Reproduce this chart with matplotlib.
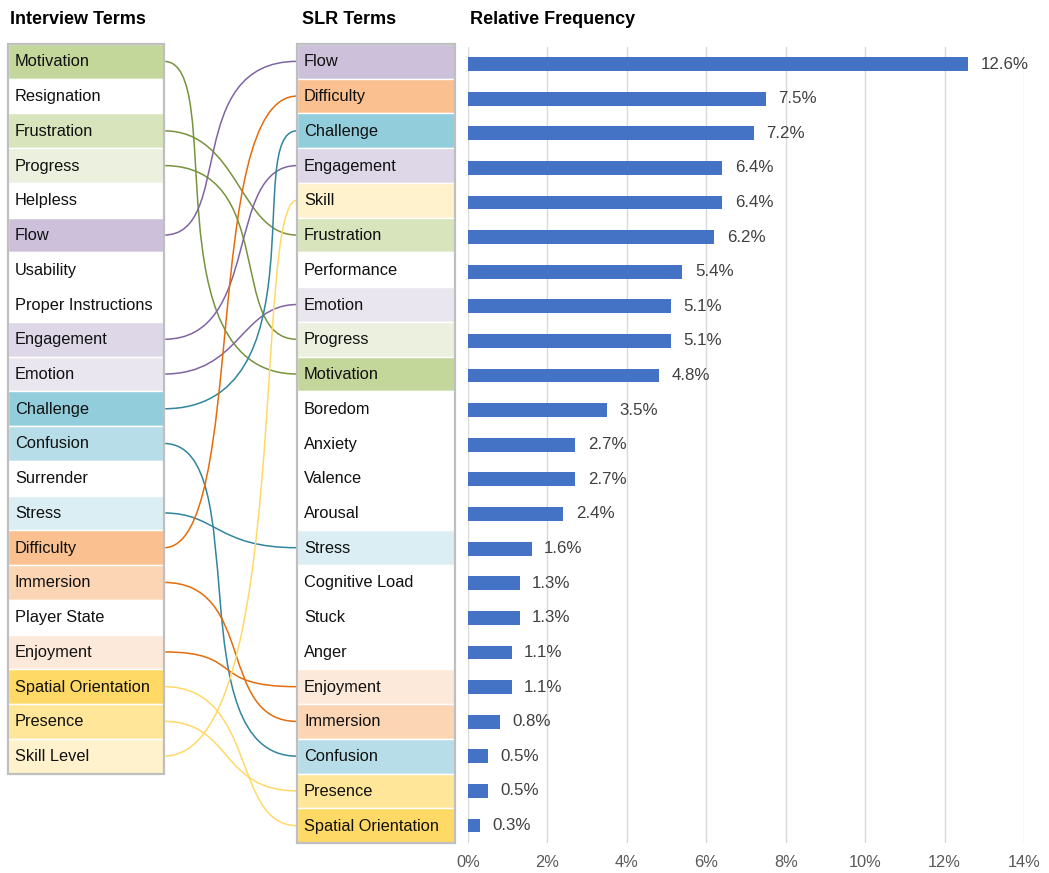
import matplotlib
matplotlib.use("Agg")
import matplotlib.pyplot as plt
import numpy as np
from matplotlib.patches import Rectangle, PathPatch
from matplotlib.path import Path
from matplotlib.ticker import FuncFormatter, MultipleLocator

plt.rcParams['font.family'] = ['Liberation Sans', 'DejaVu Sans']

# ---------------- data ----------------
interview_terms = ["Motivation", "Resignation", "Frustration", "Progress", "Helpless",
                   "Flow", "Usability", "Proper Instructions", "Engagement", "Emotion",
                   "Challenge", "Confusion", "Surrender", "Stress", "Difficulty",
                   "Immersion", "Player State", "Enjoyment", "Spatial Orientation",
                   "Presence", "Skill Level"]

slr_terms = ["Flow", "Difficulty", "Challenge", "Engagement", "Skill", "Frustration",
             "Performance", "Emotion", "Progress", "Motivation", "Boredom", "Anxiety",
             "Valence", "Arousal", "Stress", "Cognitive Load", "Stuck", "Anger",
             "Enjoyment", "Immersion", "Confusion", "Presence", "Spatial Orientation"]

rel_freq = [12.6, 7.5, 7.2, 6.4, 6.4, 6.2, 5.4, 5.1, 5.1, 4.8, 3.5, 2.7,
            2.7, 2.4, 1.6, 1.3, 1.3, 1.1, 1.1, 0.8, 0.5, 0.5, 0.3]

link_interview = ["Motivation", "Frustration", "Progress", "Flow", "Engagement", "Emotion",
                  "Challenge", "Confusion", "Stress", "Difficulty", "Immersion", "Enjoyment",
                  "Spatial Orientation", "Presence", "Skill Level"]
link_slr = ["Motivation", "Frustration", "Progress", "Flow", "Engagement", "Emotion",
            "Challenge", "Confusion", "Stress", "Difficulty", "Immersion", "Enjoyment",
            "Spatial Orientation", "Presence", "Skill"]
link_group = ["green", "green", "green", "purple", "purple", "purple",
              "teal", "teal", "teal", "orange", "orange", "orange",
              "yellow", "yellow", "yellow"]

# ---------------- styles ----------------
fill_colors = {
    "Motivation": "#C4D79B", "Frustration": "#D8E4BC", "Progress": "#EBF1DE",
    "Flow": "#CCC0DA", "Engagement": "#DDD7E7", "Emotion": "#EAE6F0",
    "Challenge": "#92CDDC", "Confusion": "#B7DEE8", "Stress": "#DAEEF3",
    "Difficulty": "#FAC090", "Immersion": "#FCD5B4", "Enjoyment": "#FDE9D9",
    "Spatial Orientation": "#FFD966", "Presence": "#FFE699",
    "Skill Level": "#FFF2CC", "Skill": "#FFF2CC",
}
group_line = {"green": "#77933C", "purple": "#8064A2", "teal": "#31859C",
              "orange": "#E46C0A", "yellow": "#FFD966"}
# connector shape: where the curve crosses its middle (fraction of gap) and tension
link_mid = [0.263, 0.549, 0.624, 0.376, 0.571, 0.556, 0.797, 0.421, 0.421,
            0.466, 0.534, 0.474, 0.579, 0.474, 0.737]
link_tension = [1.6, 1.0, 1.4, 1.4, 1.3, 1.0, 1.6, 1.6, 1.0,
                1.35, 1.3, 1.3, 1.2, 1.1, 1.3]

W, H = 1049, 873
fig = plt.figure(figsize=(W / 100, H / 100), dpi=100)
ax0 = fig.add_axes([0, 0, 1, 1])
ax0.set_xlim(0, W)
ax0.set_ylim(H, 0)
ax0.axis("off")

top = 44.0
row_h = (843.0 - 44.0) / len(slr_terms)
Lx0, Lx1 = 8.0, 164.0
Rx0, Rx1 = 297.0, 455.0
FS = 11.8

def row_y(i):
    return top + row_h * (i + 0.5)

def draw_column(terms, x0, x1):
    for i, t in enumerate(terms):
        c = fill_colors.get(t, "white")
        ax0.add_patch(Rectangle((x0, top + i * row_h), x1 - x0, row_h,
                                facecolor=c, edgecolor="white", lw=1.0, zorder=1))
        ax0.text(x0 + 7, row_y(i) + 0.5, t, fontsize=FS, va="center", ha="left",
                 color="#111111", zorder=3)
    ax0.add_patch(Rectangle((x0, top), x1 - x0, row_h * len(terms), facecolor="none",
                            edgecolor="#BFBFBF", lw=1.6, zorder=2))

draw_column(interview_terms, Lx0, Lx1)
draw_column(slr_terms, Rx0, Rx1)

ax0.text(10, 19, "Interview Terms", fontsize=13, fontweight="bold", va="center", ha="left")
ax0.text(302, 19, "SLR Terms", fontsize=13, fontweight="bold", va="center", ha="left")
ax0.text(470, 19, "Relative Frequency", fontsize=13, fontweight="bold", va="center", ha="left")

# connectors (single cubic Bezier with horizontal control handles)
for a, b, g, m, s in zip(link_interview, link_slr, link_group, link_mid, link_tension):
    y1 = row_y(interview_terms.index(a))
    y2 = row_y(slr_terms.index(b))
    xa, xb = Lx1, Rx0
    w = xb - xa
    xm = xa + w * m
    diff = 8.0 * (xm - (xa + xb) / 2) / 3.0
    tot = s * w
    k1 = (tot + diff) / 2
    k2 = (tot - diff) / 2
    verts = [(xa, y1), (xa + k1, y1), (xb - k2, y2), (xb, y2)]
    codes = [Path.MOVETO, Path.CURVE4, Path.CURVE4, Path.CURVE4]
    ax0.add_patch(PathPatch(Path(verts, codes), facecolor="none",
                            edgecolor=group_line[g], lw=1.1, zorder=0.5))

# bar chart
bx0, bx1 = 468.0, 1024.0
by0, by1 = 46.7, 842.8
ax = fig.add_axes([bx0 / W, 1 - by1 / H, (bx1 - bx0) / W, (by1 - by0) / H])
ypos = np.arange(len(slr_terms))
ax.barh(ypos, rel_freq, height=0.40, color="#4472C4", zorder=3)
ax.set_ylim(len(slr_terms) - 0.5, -0.5)
ax.set_xlim(0, 14)
ax.xaxis.set_major_locator(MultipleLocator(2))
ax.xaxis.set_major_formatter(FuncFormatter(lambda v, p: f"{v:.0f}%"))
ax.set_yticks([])
for s_ in ax.spines.values():
    s_.set_visible(False)
ax.grid(axis="x", color="#D9D9D9", lw=1.0, zorder=0)
ax.tick_params(axis="x", length=0, labelsize=11.8, labelcolor="#595959", pad=9)
for yv, v in zip(ypos, rel_freq):
    ax.annotate(f"{v:.1f}%", (v, yv), xytext=(9, 0), textcoords="offset points",
                va="center", ha="left", fontsize=12.2, color="#404040")

fig.savefig("out.png", dpi=100)
